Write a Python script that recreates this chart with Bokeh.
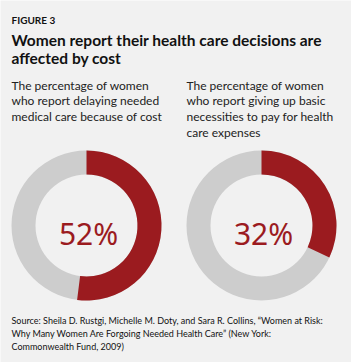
import math
from bokeh.plotting import figure
from bokeh.models import Range1d
from bokeh.core.properties import value
from bokeh.embed import file_html
from bokeh.resources import INLINE

# ---- data ----
figure_label = "FIGURE 3"
title_lines = ["Women report their health care decisions are", "affected by cost"]
subtitles = [
    ["The percentage of women", "who report delaying needed", "medical care because of cost"],
    ["The percentage of women", "who report giving up basic", "necessities to pay for health", "care expenses"],
]
percents = [52, 32]
source_lines = [
    "Source: Sheila D. Rustgi, Michelle M. Doty, and Sara R. Collins, \u201cWomen at Risk:",
    "Why Many Women Are Forgoing Needed Health Care\u201d (New York:",
    "Commonwealth Fund, 2009)",
]

W, H = 351, 362
BG = "#F1F1F1"
RED = "#9B1B1F"
GREY = "#CDCDCD"
FONT = "Lato"

def Y(t):
    return H - t

p = figure(width=W, height=H, output_backend="svg", toolbar_location=None,
           x_range=Range1d(0, W), y_range=Range1d(0, H), min_border=0)
p.axis.visible = False
p.grid.visible = False
p.outline_line_color = None
p.background_fill_color = BG
p.border_fill_color = BG

# header
p.text(x=[11], y=[Y(19.5)], text=[figure_label], text_font=value(FONT), text_font_style="bold",
       text_font_size="10px", text_color="#111111", text_baseline="alphabetic")
p.text(x=[11, 11], y=[Y(39), Y(57.5)], text=title_lines, text_font=value(FONT), text_font_style="bold",
       text_font_size="15.5px", text_color="#111111", text_baseline="alphabetic")

# subtitles
col_x = [11, 186]
for cx, lines in zip(col_x, subtitles):
    ys = [Y(84.5 + 15.7 * i) for i in range(len(lines))]
    p.text(x=[cx] * len(lines), y=ys, text=lines, text_font=value(FONT),
           text_font_size="12px", text_color="#222222", text_baseline="alphabetic")

# donuts
centers_x = [86, 261]
cy = Y(225)
r_out, r_in = 75, 51
for cxx, pct in zip(centers_x, percents):
    p.annulus(x=[cxx], y=[cy], inner_radius=r_in, outer_radius=r_out,
              fill_color=GREY, line_color=None)
    start = math.pi / 2
    end = start - 2 * math.pi * pct / 100
    p.annular_wedge(x=[cxx], y=[cy], inner_radius=r_in, outer_radius=r_out,
                    start_angle=start, end_angle=end, direction="clock",
                    fill_color=RED, line_color=None)
    p.text(x=[cxx + 2], y=[Y(232.7)], text=[f"{pct}%"], text_font=value("Noto Sans"),
           text_font_size="30px", text_color=RED, text_align="center", text_baseline="alphabetic")

# source
p.text(x=[11] * 3, y=[Y(320), Y(333), Y(345.5)], text=source_lines, text_font=value(FONT),
       text_font_size="9px", text_color="#111111", text_baseline="alphabetic")

open("out.html", "w").write(file_html(p, INLINE))
